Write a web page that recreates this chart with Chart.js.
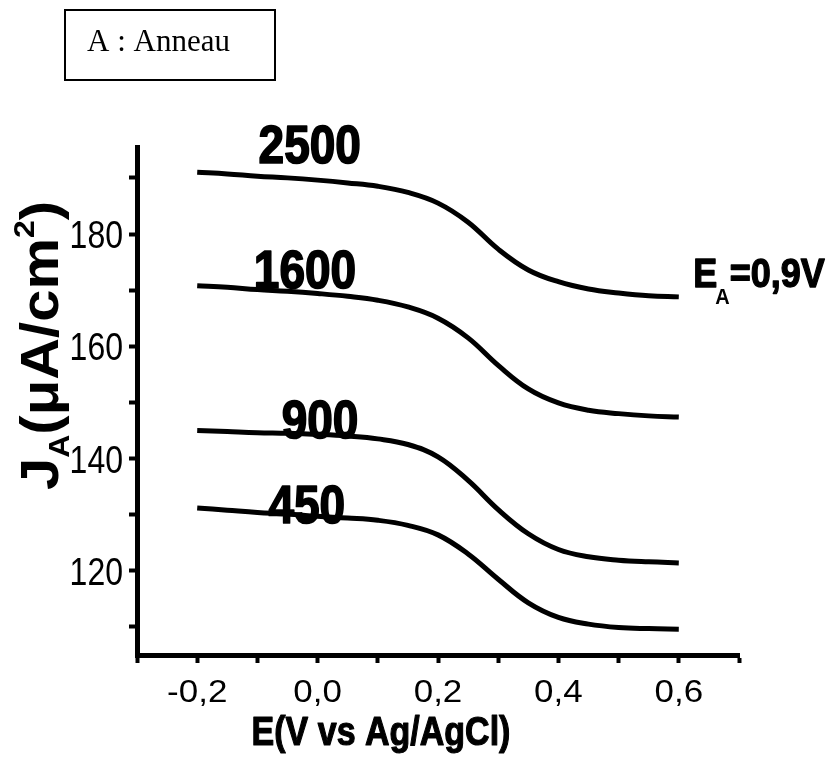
<!DOCTYPE html>
<html>
<head>
<meta charset="utf-8">
<script src="https://cdn.jsdelivr.net/npm/chart.js@4.4.0/dist/chart.umd.min.js"></script>
<style>
  body { margin: 0; background: #fff; }
  #wrap { width: 828px; height: 764px; }
</style>
</head>
<body>
<div id="wrap"><canvas id="myChart" width="828" height="764"></canvas></div>
<script>
// potentiel (V vs Ag/AgCl)
const potentiel = [-0.2, -0.15, -0.1, -0.05, 0, 0.05, 0.1, 0.15, 0.2, 0.25, 0.3, 0.35, 0.4, 0.45, 0.5, 0.55, 0.6];

// courant anneau J_A (µA/cm²) pour chaque vitesse de rotation
const j2500 = [191.0, 190.7, 190.3, 190.0, 189.6, 189.1, 188.5, 187.4, 185.5, 182.1, 177.3, 173.6, 171.5, 170.2, 169.5, 169.0, 168.8];
const j1600 = [170.8, 170.5, 170.1, 169.8, 169.4, 168.9, 168.2, 167.0, 165.0, 161.5, 156.6, 152.4, 149.9, 148.6, 148.0, 147.6, 147.4];
const j900  = [145.0, 144.8, 144.6, 144.5, 144.3, 144.0, 143.5, 142.5, 140.3, 136.1, 130.9, 126.6, 123.8, 122.5, 121.9, 121.6, 121.4];
const j450  = [131.2, 130.8, 130.4, 130.1, 129.7, 129.4, 129.0, 128.1, 126.4, 123.0, 118.5, 114.3, 111.7, 110.5, 109.9, 109.7, 109.6];

const vitesses = ['2500', '1600', '900', '450'];
const series = [j2500, j1600, j900, j450];

// graduations
const xTicks = [-0.3, -0.2, -0.1, 0, 0.1, 0.2, 0.3, 0.4, 0.5, 0.6, 0.7];
const xLabels = [-0.2, 0, 0.2, 0.4, 0.6];
const yTicks = [110, 120, 130, 140, 150, 160, 170, 180, 190];
const yLabels = [120, 140, 160, 180];

// position des étiquettes (en coordonnées des données)
const labelPos = [[-0.013, 192.6], [-0.021, 170.4], [0.004, 143.7], [-0.018, 128.5]];

function texteEtire(ctx, txt, x, y, sy, align, gras) {
    ctx.save();
    ctx.translate(x, y);
    ctx.scale(1, sy);
    ctx.textAlign = align;
    ctx.textBaseline = 'alphabetic';
    if (gras) {
        ctx.lineWidth = gras;
        ctx.lineJoin = 'round';
        ctx.strokeStyle = '#000';
        ctx.strokeText(txt, 0, 0);
    }
    ctx.fillText(txt, 0, 0);
    ctx.restore();
}

const annotations = {
    id: 'annotations',
    afterDraw(chart) {
        const ctx = chart.ctx;
        const xs = chart.scales.x, ys = chart.scales.y;
        ctx.save();
        ctx.fillStyle = '#000';

        // étiquettes des graduations
        ctx.font = '32px "Liberation Sans", Arial, sans-serif';
        yLabels.forEach(v => texteEtire(ctx, String(v), 123, ys.getPixelForValue(v) + 14, 1.22, 'right'));
        ctx.font = '35px "Liberation Sans", Arial, sans-serif';
        xLabels.forEach(v => texteEtire(ctx, v.toFixed(1).replace('.', ','), xs.getPixelForValue(v), 702, 0.9, 'center'));

        // étiquettes des courbes
        ctx.font = 'bold 46px "Liberation Sans", Arial, sans-serif';
        vitesses.forEach((v, i) => {
            texteEtire(ctx, v, xs.getPixelForValue(labelPos[i][0]), ys.getPixelForValue(labelPos[i][1]), 1.15, 'center', 1.5);
        });

        // E_A = 0,9V
        let ex = xs.getPixelForValue(0.624), ey = ys.getPixelForValue(170.6);
        ctx.font = 'bold 36px "Liberation Sans", Arial, sans-serif';
        texteEtire(ctx, 'E', ex, ey, 1.12, 'left', 1.2);
        let w = ctx.measureText('E').width;
        ctx.font = 'bold 20px "Liberation Sans", Arial, sans-serif';
        texteEtire(ctx, 'A', ex + w - 2, ey + 17, 1.1, 'left');
        let wa = ctx.measureText('A').width;
        ctx.font = 'bold 36px "Liberation Sans", Arial, sans-serif';
        texteEtire(ctx, '=0,9V', ex + w + wa - 2, ey, 1.12, 'left', 1.2);

        // titre axe x
        ctx.font = 'bold 34px "Liberation Sans", Arial, sans-serif';
        texteEtire(ctx, 'E(V vs Ag/AgCl)', 381, 745, 1.2, 'center', 1);

        // titre axe y (vertical)
        ctx.save();
        ctx.translate(58, 490);
        ctx.rotate(-Math.PI / 2);
        ctx.scale(1, 0.92);
        ctx.textAlign = 'left';
        ctx.textBaseline = 'alphabetic';
        let px = 0;
        ctx.font = 'bold 58px "Liberation Sans", Arial, sans-serif';
        ctx.fillText('J', px, 0); px += ctx.measureText('J').width;
        ctx.font = 'bold 32px "Liberation Sans", Arial, sans-serif';
        ctx.fillText('A', px, 12); px += ctx.measureText('A').width;
        ctx.font = 'bold 58px "Liberation Sans", Arial, sans-serif';
        ctx.fillText('(\u03BCA/cm', px, 0); px += ctx.measureText('(\u03BCA/cm').width;
        ctx.font = 'bold 32px "Liberation Sans", Arial, sans-serif';
        ctx.fillText('2', px, -26); px += ctx.measureText('2').width;
        ctx.font = 'bold 58px "Liberation Sans", Arial, sans-serif';
        ctx.fillText(')', px, 0);
        ctx.restore();

        // encadré "A : Anneau"
        ctx.lineWidth = 2;
        ctx.strokeStyle = '#000';
        ctx.strokeRect(65, 10, 210, 70);
        ctx.font = '31px "Liberation Serif", "Times New Roman", serif';
        ctx.textAlign = 'left';
        ctx.textBaseline = 'alphabetic';
        ctx.fillText('A : Anneau', 87, 51);
        ctx.restore();
    }
};

const ctx = document.getElementById('myChart').getContext('2d');

new Chart(ctx, {
    type: 'scatter',
    data: {
        datasets: series.map((s, i) => ({
            label: vitesses[i],
            data: potentiel.map((x, k) => ({ x: x, y: s[k] })),
            showLine: true,
            borderColor: '#000',
            borderWidth: 5,
            pointRadius: 0,
            tension: 0.4,
            fill: false
        }))
    },
    options: {
        responsive: false,
        animation: false,
        layout: { padding: { top: 147, right: 89, left: 0, bottom: 0 } },
        plugins: {
            legend: { display: false },
            tooltip: { enabled: false }
        },
        scales: {
            x: {
                type: 'linear',
                min: -0.3,
                max: 0.7,
                afterBuildTicks: (s) => { s.ticks = xTicks.map(v => ({ value: v })); },
                afterFit: (s) => { s.height = 109; },
                ticks: { display: false },
                grid: { drawOnChartArea: false, tickLength: 8, tickWidth: 4, color: '#000' },
                border: { display: true, width: 5, color: '#000' }
            },
            y: {
                min: 105,
                max: 195.5,
                afterBuildTicks: (s) => { s.ticks = yTicks.map(v => ({ value: v })); },
                afterFit: (s) => { s.width = 137; },
                ticks: { display: false },
                grid: { drawOnChartArea: false, tickLength: 8, tickWidth: 4, color: '#000' },
                border: { display: true, width: 5, color: '#000' }
            }
        }
    },
    plugins: [annotations]
});
</script>
</body>
</html>
